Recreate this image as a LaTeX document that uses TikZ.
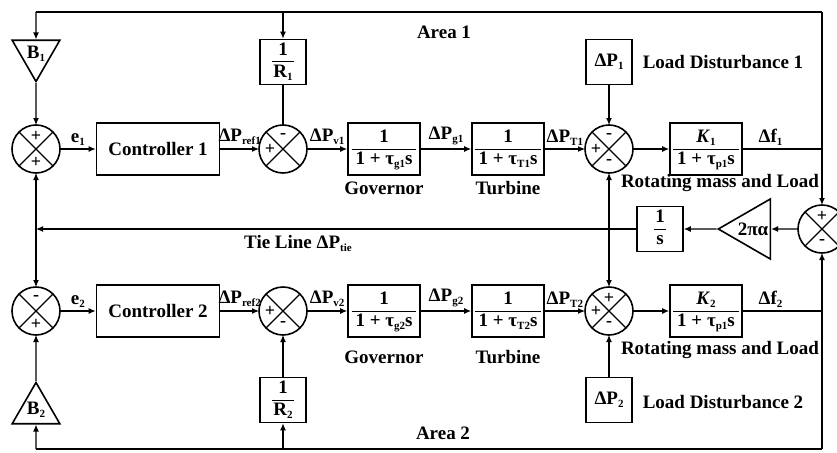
\documentclass[tikz,border=0pt]{standalone}
\usepackage{fontspec}
\setmainfont{Liberation Serif}
\usetikzlibrary{arrows.meta,shapes.geometric}

\setlength{\arrayrulewidth}{1pt}
\newcommand{\lowtxt}[1]{\raisebox{-0.35ex}{\fontsize{11}{11}\selectfont #1}}
\newcommand{\blkfrac}[2]{\begin{tabular}{@{\hspace{4pt}}c@{\hspace{4pt}}}#1\\\hline #2\end{tabular}}
\newcommand{\gainfrac}[2]{\begin{tabular}{@{\hspace{1pt}}c@{\hspace{1pt}}}#1\\\hline #2\end{tabular}}
\newcommand{\sumcross}[1]{\draw (#1.north west) -- (#1.south east) (#1.north east) -- (#1.south west);}

\tikzset{
  blk/.style={draw, line width=1.6pt, inner sep=0pt, minimum width=72pt, minimum height=52pt},
  ctrl/.style={blk, minimum width=123pt},
  gainbox/.style={draw, line width=1.6pt, inner sep=0pt, minimum width=46pt, minimum height=45pt},
  sumj/.style={draw, circle, line width=1.6pt, minimum size=48pt, inner sep=0pt, outer sep=0pt},
  sgn/.style={font=\fontsize{18}{18}\selectfont\bfseries, inner sep=0pt},
  gain/.style={draw, regular polygon, regular polygon sides=3, line width=1.6pt, inner sep=0pt, minimum size=55pt},
  note/.style={inner sep=1pt},
}

\begin{document}
\begin{tikzpicture}[x=1pt, y=-1pt, line width=1.2pt, >={Latex[length=7pt,width=6pt]},
    font=\fontsize{19}{21}\selectfont\bfseries]
    \clip (0,0) rectangle (837,452);

    % Area 1
    \node[gain, shape border rotate=180] (b1) at (36,54) {B\lowtxt{1}};
    \node[sumj] (s1) at (36,149) {};
    \node[ctrl] (c1) at (158,149) {Controller 1};
    \node[sumj] (s1b) at (283,149) {};
    \node[gainbox] (r1) at (283,62) {\gainfrac{1}{R\lowtxt{1}}};
    \node[blk] (g1) at (384,149) {\blkfrac{1}{1 + τ\lowtxt{g1}s}};
    \node[blk] (t1) at (508,149) {\blkfrac{1}{1 + τ\lowtxt{T1}s}};
    \node[sumj] (s3) at (609,149) {};
    \node[gainbox] (d1) at (609,62) {ΔP\lowtxt{1}};
    \node[blk] (k1) at (706,149) {\blkfrac{\textit{K}\lowtxt{1}}{1 + τ\lowtxt{p1}s}};

    \node[note] (area1) at (444,32) {Area 1};
    \node[note] (ld1) at (723,62) {Load Disturbance 1};
    \node[note] (gv1) at (384,188) {Governor};
    \node[note] (tb1) at (508,188) {Turbine};
    \node[note] (rm1) at (720,183) {Rotating mass and Load};

    % Tie line
    \node[sumj] (s4) at (822,229) {};
    \node[gain, shape border rotate=90, minimum size=64pt, inner sep=-3pt] (al) at (753,229) {2πα};
    \node[gainbox] (ts) at (660,229) {\gainfrac{1}{s}};
    \node[note] (tiel) at (298,243) {Tie Line ΔP\lowtxt{tie}};

    % Area 2
    \node[gain] (b2) at (36,410) {B\lowtxt{2}};
    \node[sumj] (s2) at (36,311) {};
    \node[ctrl] (c2) at (158,311) {Controller 2};
    \node[sumj] (s2b) at (283,311) {};
    \node[gainbox] (r2) at (283,400) {\gainfrac{1}{R\lowtxt{2}}};
    \node[blk] (g2) at (384,311) {\blkfrac{1}{1 + τ\lowtxt{g2}s}};
    \node[blk] (t2) at (508,311) {\blkfrac{1}{1 + τ\lowtxt{T2}s}};
    \node[sumj] (s3b) at (609,311) {};
    \node[gainbox] (d2) at (609,400) {ΔP\lowtxt{2}};
    \node[blk] (k2) at (706,311) {\blkfrac{\textit{K}\lowtxt{2}}{1 + τ\lowtxt{p1}s}};

    \node[note] (area2) at (443,433) {Area 2};
    \node[note] (ld2) at (723,402) {Load Disturbance 2};
    \node[note] (gv2) at (384,357) {Governor};
    \node[note] (tb2) at (508,357) {Turbine};
    \node[note] (rm2) at (720,350) {Rotating mass and Load};

    % crosses and signs
    \sumcross{s1} \sumcross{s1b} \sumcross{s3} \sumcross{s4}
    \sumcross{s2} \sumcross{s2b} \sumcross{s3b}
    \node[sgn] (s1n) at ([yshift=13pt]s1.center) {+};
    \node[sgn] (s1s) at ([yshift=-13pt]s1.center) {+};
    \node[sgn] (s1bn) at ([yshift=13pt]s1b.center) {-};
    \node[sgn] (s1bw) at ([xshift=-13pt]s1b.center) {+};
    \node[sgn] (s3n) at ([yshift=13pt]s3.center) {-};
    \node[sgn] (s3w) at ([xshift=-13pt]s3.center) {+};
    \node[sgn] (s3s) at ([yshift=-13pt]s3.center) {-};
    \node[sgn] (s4n) at ([yshift=13pt]s4.center) {+};
    \node[sgn] (s4s) at ([yshift=-13pt]s4.center) {-};
    \node[sgn] (s2n) at ([yshift=13pt]s2.center) {-};
    \node[sgn] (s2s) at ([yshift=-13pt]s2.center) {+};
    \node[sgn] (s2bw) at ([xshift=-13pt]s2b.center) {+};
    \node[sgn] (s2bs) at ([yshift=-13pt]s2b.center) {-};
    \node[sgn] (s3bn) at ([yshift=13pt]s3b.center) {+};
    \node[sgn] (s3bw) at ([xshift=-13pt]s3b.center) {+};
    \node[sgn] (s3bs) at ([yshift=-13pt]s3b.center) {-};

    % loop corners
    \coordinate (tl) at (36,12);
    \coordinate (tr) at (822,12);
    \coordinate (tm) at (283,12);
    \coordinate (bl) at (36,449);
    \coordinate (br) at (822,449);
    \coordinate (bm) at (283,449);
    \coordinate (f1) at (822,149);
    \coordinate (f2) at (822,311);
    \coordinate (tie) at (36,229);

    % signal path, area 1
    \draw[->] (b1.south) -- (s1.north);
    \draw[->] (s1) -- node[above] (e1) {e\lowtxt{1}} (c1);
    \draw[->] (c1) -- node[above] (pr1) {ΔP\lowtxt{ref1}} (s1b);
    \draw (r1) -- (s1b);
    \draw[->] (s1b) -- node[above] (pv1) {ΔP\lowtxt{v1}} (g1);
    \draw[->] (g1) -- node[above] (pg1) {ΔP\lowtxt{g1}} (t1);
    \draw[->] (t1) -- node[above] (pt1) {ΔP\lowtxt{T1}} (s3);
    \draw[->] (d1) -- (s3);
    \draw[->] (s3) -- (k1);
    \draw (k1) -- node[above, pos=0.35] (df1) {Δf\lowtxt{1}} (f1);
    \draw (tr) -- (tl);
    \draw[->] (tl) -- (b1.north);
    \draw[->] (tm) -- (r1);
    \draw[->] (tr) -- (s4.north);

    % tie line
    \draw[->] (s4) -- (al.east);
    \draw[->] (al.west) -- (ts);
    \draw[->] (ts) -- (tie);
    \draw[<->] (s1) -- (s2);
    \draw[<->] (s3) -- (s3b);

    % signal path, area 2
    \draw[->] (b2.north) -- (s2.south);
    \draw[->] (s2) -- node[above] (e2) {e\lowtxt{2}} (c2);
    \draw[->] (c2) -- node[above] (pr2) {ΔP\lowtxt{ref2}} (s2b);
    \draw[->] (r2) -- (s2b);
    \draw[->] (s2b) -- node[above] (pv2) {ΔP\lowtxt{v2}} (g2);
    \draw[->] (g2) -- node[above] (pg2) {ΔP\lowtxt{g2}} (t2);
    \draw[->] (t2) -- node[above] (pt2) {ΔP\lowtxt{T2}} (s3b);
    \draw[->] (d2) -- (s3b);
    \draw[->] (s3b) -- (k2);
    \draw (k2) -- node[above, pos=0.35] (df2) {Δf\lowtxt{2}} (f2);
    \draw (br) -- (bl);
    \draw[->] (bl) -- (b2.south);
    \draw[->] (bm) -- (r2);
    \draw[->] (br) -- (s4.south);
\end{tikzpicture}
\end{document}
